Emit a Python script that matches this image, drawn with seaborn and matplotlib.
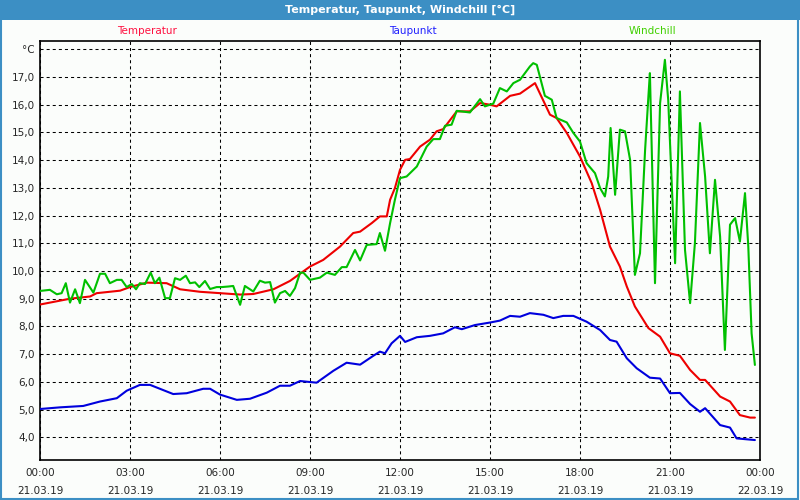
import matplotlib
matplotlib.use("Agg")
import matplotlib.pyplot as plt
from matplotlib.patches import Rectangle
import seaborn as sns
import pandas as pd

# hours since 21.03.19 00:00
temp_hours = [0, 1.0, 1.67, 1.89, 2.67, 3.0, 3.56, 4.22, 4.67, 5.33, 6.0, 6.67, 7.11, 7.78, 8.33,
              9.0, 9.44, 10.0, 10.44, 10.67, 11.06, 11.33, 11.56, 11.67, 11.83, 12.0, 12.17, 12.33,
              12.67, 13.0, 13.22, 13.44, 13.89, 14.33, 14.67, 15.0, 15.22, 15.67, 16.0, 16.5,
              17.0, 17.22, 17.56, 18.0, 18.39, 18.67, 19.0, 19.33, 19.56, 19.83, 20.28, 20.67,
              21.0, 21.33, 21.67, 22.0, 22.17, 22.67, 23.0, 23.33, 23.67, 23.83]
temperatur = [8.79, 9.0, 9.08, 9.2, 9.29, 9.42, 9.58, 9.56, 9.34, 9.25, 9.2, 9.15, 9.17, 9.34, 9.64,
              10.16, 10.40, 10.88, 11.37, 11.42, 11.73, 11.97, 11.97, 12.57, 12.99, 13.65, 14.01, 14.04,
              14.49, 14.74, 15.04, 15.12, 15.76, 15.76, 16.06, 16.0, 15.94, 16.32, 16.4, 16.78,
              15.64, 15.52, 14.98, 14.13, 13.17, 12.21, 10.88, 10.16, 9.44, 8.72, 7.94, 7.63,
              7.03, 6.94, 6.43, 6.07, 6.07, 5.47, 5.29, 4.80, 4.71, 4.71]

dew_hours = [0, 0.67, 1.44, 2.0, 2.56, 2.89, 3.33, 3.67, 4.44, 4.89, 5.44, 5.67, 6.0, 6.56, 7.0,
             7.56, 8.0, 8.33, 8.67, 9.22, 9.78, 10.22, 10.67, 11.11, 11.33, 11.5, 11.72, 12.0,
             12.17, 12.56, 13.0, 13.44, 13.83, 14.06, 14.5, 15.0, 15.33, 15.67, 16.0, 16.33,
             16.78, 17.11, 17.44, 17.78, 18.22, 18.67, 19.0, 19.22, 19.56, 19.89, 20.33, 20.67,
             21.0, 21.33, 21.67, 22.0, 22.17, 22.67, 23.0, 23.22, 23.83]
taupunkt = [5.02, 5.08, 5.13, 5.29, 5.41, 5.68, 5.89, 5.89, 5.56, 5.59, 5.75, 5.75, 5.54, 5.35, 5.39,
            5.61, 5.86, 5.86, 6.03, 5.97, 6.40, 6.69, 6.62, 6.94, 7.09, 7.03, 7.39, 7.66,
            7.44, 7.61, 7.66, 7.75, 7.97, 7.90, 8.05, 8.14, 8.21, 8.38, 8.35, 8.48,
            8.42, 8.30, 8.38, 8.38, 8.17, 7.87, 7.51, 7.45, 6.85, 6.49, 6.15, 6.12,
            5.59, 5.60, 5.20, 4.92, 5.05, 4.44, 4.35, 3.96, 3.90]

wc_hours = [0, 0.33, 0.56, 0.72, 0.86, 1.0, 1.17, 1.33, 1.5, 1.78, 2.0, 2.17, 2.33, 2.56, 2.72,
            2.89, 3.06, 3.2, 3.33, 3.5, 3.69, 3.83, 3.98, 4.17, 4.33, 4.5, 4.67, 4.86, 5.0,
            5.17, 5.31, 5.5, 5.67, 5.89, 6.06, 6.28, 6.44, 6.67, 6.83, 7.11, 7.33, 7.5, 7.67,
            7.83, 8.0, 8.17, 8.33, 8.5, 8.67, 8.78, 9.0, 9.33, 9.56, 9.83, 10.06, 10.22, 10.5,
            10.67, 10.89, 11.22, 11.33, 11.5, 11.67, 11.83, 12.0, 12.22, 12.56, 12.89, 13.11,
            13.33, 13.5, 13.72, 13.89, 14.33, 14.67, 14.83, 15.11, 15.33, 15.56, 15.78, 16.0,
            16.33, 16.44, 16.56, 16.83, 17.06, 17.22, 17.56, 17.78, 18.0, 18.22, 18.5, 18.67,
            18.83, 18.94, 19.02, 19.17, 19.33, 19.5, 19.67, 19.83, 20.0, 20.17, 20.28, 20.33,
            20.5, 20.67, 20.83, 20.94, 21.17, 21.33, 21.5, 21.67, 21.83, 22.0, 22.17, 22.33,
            22.5, 22.67, 22.83, 23.0, 23.17, 23.33, 23.5, 23.61, 23.72, 23.83]
windchill = [9.28, 9.32, 9.16, 9.2, 9.56, 8.86, 9.34, 8.84, 9.68, 9.22, 9.9, 9.9, 9.56, 9.68, 9.68,
             9.42, 9.53, 9.34, 9.56, 9.53, 9.94, 9.56, 9.76, 9.02, 9.02, 9.74, 9.68, 9.83, 9.56,
             9.59, 9.42, 9.64, 9.35, 9.42, 9.42, 9.44, 9.46, 8.78, 9.46, 9.26, 9.65, 9.58, 9.6,
             8.86, 9.2, 9.28, 9.1, 9.38, 9.94, 9.94, 9.68, 9.76, 9.94, 9.86, 10.14, 10.14, 10.76,
             10.38, 10.94, 10.97, 11.37, 10.73, 11.73, 12.57, 13.35, 13.41, 13.77, 14.49, 14.76,
             14.76, 15.24, 15.28, 15.78, 15.72, 16.2, 15.94, 16.04, 16.6, 16.48, 16.78, 16.9,
             17.38, 17.5, 17.44, 16.32, 16.18, 15.52, 15.36, 14.98, 14.67, 13.89, 13.53, 12.99,
             12.69, 13.41, 15.16, 12.75, 15.1, 15.04, 14.01, 9.86, 10.64, 14.37, 16.3, 17.14,
             9.56, 16.06, 17.62, 16.18, 10.28, 16.48, 10.76, 8.84, 11.0, 15.34, 13.41, 10.64,
             13.29, 11.24, 7.15, 11.67, 11.91, 11.06, 12.81, 10.88, 7.75, 6.61]

tick_hours = [0, 3, 6, 9, 12, 15, 18, 21, 24]
tick_labels = ["00:00\n21.03.19", "03:00\n21.03.19", "06:00\n21.03.19", "09:00\n21.03.19",
               "12:00\n21.03.19", "15:00\n21.03.19", "18:00\n21.03.19", "21:00\n21.03.19",
               "00:00\n22.03.19"]
y_ticks = list(range(4, 19))
y_labels = [f"{v},0" for v in range(4, 18)] + ["°C"]

series_names = ["Temperatur", "Taupunkt", "Windchill"]
line_colors = ["#ee0000", "#0000dd", "#00c000"]
label_colors = ["#ff1040", "#2020ff", "#40d000"]

sns.set_style("white")
plt.rcParams["font.family"] = ["DejaVu Sans"]
plt.rcParams["lines.scale_dashes"] = False

fig = plt.figure(figsize=(8, 5), dpi=100, facecolor="#fbfdfb")
ax = fig.add_axes([0.05, 0.08, 0.90, 0.8386])
ax.set_facecolor("#fbfdfb")

df_t = pd.DataFrame({"h": temp_hours, "v": temperatur})
df_d = pd.DataFrame({"h": dew_hours, "v": taupunkt})
df_w = pd.DataFrame({"h": wc_hours, "v": windchill})

sns.lineplot(data=df_t, x="h", y="v", ax=ax, color=line_colors[0], lw=1.5, zorder=3)
sns.lineplot(data=df_d, x="h", y="v", ax=ax, color=line_colors[1], lw=1.5, zorder=3)
sns.lineplot(data=df_w, x="h", y="v", ax=ax, color=line_colors[2], lw=1.5, zorder=4)

ax.set_xlim(0, 24)
ax.set_ylim(3.18, 18.31)
ax.set_xticks(tick_hours)
ax.set_xticklabels(tick_labels, fontsize=7.5, linespacing=1.9)
ax.set_xticks(range(0, 25), minor=True)
ax.set_yticks(y_ticks)
ax.set_yticklabels(y_labels, fontsize=7.5)
ax.set_xlabel("")
ax.set_ylabel("")
ax.tick_params(axis="x", which="both", direction="out", length=3, width=0.8, color="black", pad=3)
ax.tick_params(axis="y", length=0, pad=4)
ax.grid(True, which="major", color="black", lw=0.75, linestyle=(0, (2.2, 2.2)))
for s in ax.spines.values():
    s.set_visible(True)
    s.set_color("black")
    s.set_linewidth(1.2)

# series labels above the plot
for name, col, xpos in zip(series_names, label_colors, [147, 413, 652]):
    fig.text(xpos / 800, 1 - 31 / 500, name, color=col, fontsize=7.5, ha="center", va="center")

# title bar and window border
fig.patches.append(Rectangle((0, 0.96), 1, 0.04, transform=fig.transFigure,
                             facecolor="#3c8fc4", edgecolor="none", zorder=0))
fig.patches.append(Rectangle((0.001, 0.002), 0.997, 0.996, transform=fig.transFigure,
                             facecolor="none", edgecolor="#3c8fc4", lw=1.5, zorder=0))
fig.text(0.5, 0.98, "Temperatur, Taupunkt, Windchill [°C]", color="white",
         fontsize=8, fontweight="bold", ha="center", va="center")

fig.savefig("out.png", dpi=100, facecolor=fig.get_facecolor())
